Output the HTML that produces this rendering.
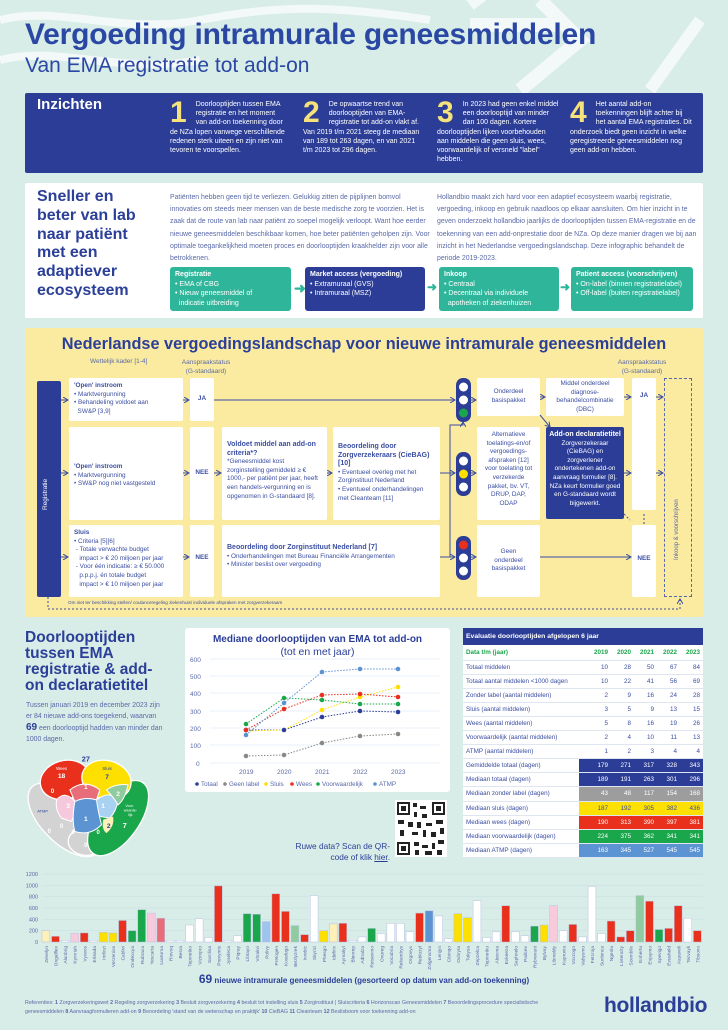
<!DOCTYPE html>
<html><head><meta charset="utf-8"><style>
*{margin:0;padding:0;box-sizing:border-box}
body{width:728px;height:1030px;background:#d8ece8;font-family:"Liberation Sans",sans-serif;color:#2b3f98;position:relative;overflow:hidden}
.a{position:absolute}
.w{background:#fff}
.t7{font-size:7px;line-height:9.4px}
.wt{color:#fff}
b{font-weight:bold}
.bx{position:absolute;background:#fff;border-radius:2px;font-size:6.4px;line-height:8.6px;padding:4px 5px;color:#3a4ea2}
.c{text-align:center}
.pb{position:absolute;top:267px;height:44px;border-radius:3px;padding:3px 5px;font-size:7px;line-height:9.5px;color:#fff}
table{border-collapse:collapse}
td{height:14.1px;font-size:6.3px;color:#3a4ea2;border-bottom:1px solid #dfe6ef;padding:0 3px}
td.n{text-align:right;width:23px}
.iz{font-size:7px;line-height:9.2px}
.iz span{float:left;font-size:30px;line-height:26px;font-weight:bold;color:#f6e27a;margin-right:9px}
</style></head><body>
<svg class="a" style="left:0;top:0" width="728" height="230">
<path d="M0 20 C60 5 120 35 200 20 S330 5 430 20" stroke="#fff" stroke-width="8" fill="none" opacity=".7"/>
<path d="M0 60 C60 45 120 75 200 60" stroke="#fff" stroke-width="8" fill="none" opacity=".7"/>
<path d="M470 25 L560 25 M540 0 L580 40 L520 90" stroke="#fff" stroke-width="14" fill="none" opacity=".7"/>
<path d="M470 5 L490 -10 M650 90 L700 20" stroke="#fff" stroke-width="12" fill="none" opacity=".7"/>
</svg>
<div class="a" style="left:25px;top:18px;font-size:30px;font-weight:bold;color:#2a47a3;letter-spacing:-.2px">Vergoeding intramurale geneesmiddelen</div>
<div class="a" style="left:25px;top:54px;font-size:21px;color:#2a47a3">Van EMA registratie tot add-on</div>

<div class="a" style="left:25px;top:93px;width:678px;height:80px;background:#2b3d96;border-radius:2px"></div>
<div class="a wt" style="left:37px;top:96px;font-size:15px;font-weight:bold">Inzichten</div>
<div class="a wt iz" style="left:170px;top:100px;width:118px"><span>1</span>Doorlooptijden tussen EMA registratie en het moment van add-on toekenning door de NZa lopen vanwege verschillende redenen sterk uiteen en zijn niet van tevoren te voorspellen.</div>
<div class="a wt iz" style="left:303px;top:100px;width:120px"><span>2</span>De opwaartse trend van doorlooptijden van EMA-registratie tot add-on vlakt af. Van 2019 t/m 2021 steeg de mediaan van 189 tot 263 dagen, en van 2021 t/m 2023 tot 296 dagen.</div>
<div class="a wt iz" style="left:437px;top:100px;width:122px"><span>3</span>In 2023 had geen enkel middel een doorlooptijd van minder dan 100 dagen. Kortere doorlooptijden lijken voorbehouden aan middelen die geen sluis, wees, voorwaardelijk of versneld "label" hebben.</div>
<div class="a wt iz" style="left:570px;top:100px;width:122px"><span>4</span>Het aantal add-on toekenningen blijft achter bij het aantal EMA registraties. Dit onderzoek biedt geen inzicht in welke geregistreerde geneesmiddelen nog geen add-on hebben.</div>

<div class="a w" style="left:25px;top:183px;width:678px;height:135px;border-radius:2px"></div>
<div class="a" style="left:37px;top:188px;font-size:16px;line-height:18.8px;font-weight:bold;color:#2b3f98">Sneller en<br>beter van lab<br>naar patiënt<br>met een<br>adaptiever<br>ecosysteem</div>
<div class="a" style="left:170px;top:192px;width:262px;font-size:6.9px;line-height:12.2px;color:#5a6aa8">Patiënten hebben geen tijd te verliezen. Gelukkig zitten de pijplijnen bomvol innovaties om steeds meer mensen van de beste medische zorg te voorzien. Het is zaak dat de route van lab naar patiënt zo soepel mogelijk verloopt. Want hoe eerder nieuwe geneesmiddelen beschikbaar komen, hoe beter patiënten geholpen zijn. Voor optimale toegankelijkheid moeten proces en doorlooptijden kraakhelder zijn voor alle betrokkenen.</div>
<div class="a" style="left:437px;top:192px;width:262px;font-size:6.9px;line-height:12.2px;color:#5a6aa8">Hollandbio maakt zich hard voor een adaptief ecosysteem waarbij registratie, vergoeding, inkoop en gebruik naadloos op elkaar aansluiten. Om hier inzicht in te geven onderzoekt hollandbio jaarlijks de doorlooptijden tussen EMA-registratie en de toekenning van een add-onprestatie door de NZa. Op deze manier dragen we bij aan inzicht in het Nederlandse vergoedingslandschap. Deze infographic behandelt de periode 2019-2023.</div>
<div class="pb" style="left:170px;width:121px;background:#2fb59a"><b>Registratie</b><br>• EMA of CBG<br>• Nieuw geneesmiddel of<br>&nbsp;&nbsp;indicatie uitbreiding</div>
<div class="pb" style="left:305px;width:120px;background:#2b3d96"><b>Market access (vergoeding)</b><br>• Extramuraal (GVS)<br>• Intramuraal (MSZ)</div>
<div class="pb" style="left:439px;width:120px;background:#2fb59a"><b>Inkoop</b><br>• Centraal<br>• Decentraal via individuele<br>&nbsp;&nbsp;apotheken of ziekenhuizen</div>
<div class="pb" style="left:571px;width:122px;background:#2fb59a"><b>Patient access (voorschrijven)</b><br>• On-label (binnen registratielabel)<br>• Off-label (buiten registratielabel)</div>
<div class="a" style="left:294px;top:280px;color:#2fb59a;font-size:14px;font-weight:bold">➜</div>
<div class="a" style="left:427px;top:280px;color:#2fb59a;font-size:12px;font-weight:bold">➜</div>
<div class="a" style="left:560px;top:280px;color:#2fb59a;font-size:12px;font-weight:bold">➜</div>

<div class="a" style="left:25px;top:328px;width:678px;height:289px;background:#fbeba0;border-radius:2px"></div>
<div class="a c" style="left:25px;top:335px;width:678px;font-size:16.3px;font-weight:bold;color:#2b3f98">Nederlandse vergoedingslandschap voor nieuwe intramurale geneesmiddelen</div>
<div class="a" style="left:90px;top:358px;font-size:6.5px;color:#5a6aa8">Wettelijk kader [1-4]</div>
<div class="a c" style="left:176px;top:358px;width:60px;font-size:6.5px;line-height:9px;color:#5a6aa8">Aanspraakstatus<br>(G-standaard)</div>
<div class="a c" style="left:612px;top:358px;width:60px;font-size:6.5px;line-height:9px;color:#5a6aa8">Aanspraakstatus<br>(G-standaard)</div>
<div class="a" style="left:37px;top:381px;width:24px;height:216px;background:#2b3d96;border-radius:2px"></div>
<div class="a wt" style="left:42px;top:510px;font-size:6.5px;transform:rotate(-90deg);transform-origin:0 0">Registratie</div>

<div class="bx" style="left:69px;top:378px;width:114px;height:43px"><b>'Open' instroom</b><br>• Marktvergunning<br>• Behandeling voldoet aan<br>&nbsp;&nbsp;SW&amp;P [3,9]</div>
<div class="bx c" style="left:190px;top:378px;width:24px;height:43px;padding-top:17px"><b>JA</b></div>
<div class="bx" style="left:69px;top:427px;width:114px;height:93px;padding-top:36px"><b>'Open' instroom</b><br>• Marktvergunning<br>• SW&amp;P nog niet vastgesteld</div>
<div class="bx c" style="left:190px;top:427px;width:24px;height:93px;padding-top:42px"><b>NEE</b></div>
<div class="bx" style="left:222px;top:427px;width:105px;height:93px;padding-top:14px"><b style="font-size:7px">Voldoet middel aan add-on criteria*?</b><br>*Geneesmiddel kost zorginstelling gemiddeld ≥ € 1000,- per patiënt per jaar, heeft een handels-vergunning en is opgenomen in G-standaard [8].</div>
<div class="bx" style="left:333px;top:427px;width:107px;height:93px;padding-top:16px"><b style="font-size:7px">Beoordeling door Zorgverzekeraars (CieBAG) [10]</b><br>• Eventueel overleg met het Zorginstituut Nederland<br>• Eventueel onderhandelingen met Cleanteam [11]</div>
<div class="bx" style="left:69px;top:525px;width:114px;height:72px"><b>Sluis</b><br>• Criteria [5][6]<br>&nbsp;- Totale verwachte budget<br>&nbsp;&nbsp;&nbsp;impact &gt; € 20 miljoen per jaar<br>&nbsp;- Voor één indicatie: ≥ € 50.000<br>&nbsp;&nbsp;&nbsp;p.p.p.j. én totale budget<br>&nbsp;&nbsp;&nbsp;impact &gt; € 10 miljoen per jaar</div>
<div class="bx c" style="left:190px;top:525px;width:24px;height:72px;padding-top:29px"><b>NEE</b></div>
<div class="bx" style="left:222px;top:525px;width:218px;height:72px;padding-top:19px"><b style="font-size:7px">Beoordeling door Zorginstituut Nederland [7]</b><br>• Onderhandelingen met Bureau Financiële Arrangementen<br>• Minister beslist over vergoeding</div>
<div class="bx c" style="left:477px;top:378px;width:63px;height:38px;padding-top:10px">Onderdeel<br>basispakket</div>
<div class="bx c" style="left:546px;top:378px;width:78px;height:38px;padding-top:2px">Middel onderdeel diagnose-behandelcombinatie (DBC)</div>
<div class="bx c" style="left:477px;top:427px;width:63px;height:93px;padding-top:4px">Alternatieve toelatings-en/of vergoedings-afspraken [12] voor toelating tot verzekerde pakket, bv. VT, DRUP, DAP, ODAP</div>
<div class="bx c" style="left:546px;top:427px;width:78px;height:92px;background:#2b3d96;color:#fff;padding:4px 3px"><b style="font-size:7px">Add-on declaratietitel</b><br>Zorgverzekeraar (CieBAG) en zorgverlener ondertekenen add-on aanvraag formulier [8]. NZa keurt formulier goed en G-standaard wordt bijgewerkt.</div>
<div class="bx c" style="left:477px;top:525px;width:63px;height:72px;padding-top:23px">Geen<br>onderdeel<br>basispakket</div>
<div class="bx c" style="left:632px;top:378px;width:24px;height:132px;padding-top:14px"><b>JA</b></div>
<div class="bx c" style="left:632px;top:525px;width:24px;height:72px;padding-top:30px"><b>NEE</b></div>
<div class="a" style="left:664px;top:378px;width:28px;height:219px;border:1px dashed #5a6aa8"></div>
<div class="a" style="left:674px;top:560px;font-size:6px;color:#5a6aa8;transform:rotate(-90deg);transform-origin:0 0;white-space:nowrap">Inkoop &amp; voorschrijven</div>
<div class="a" style="left:68px;top:600px;font-size:4.6px;color:#3a4ea2">Om niet ter beschikking stellen/ coulanceregeling ziekenhuis/ individuele afspraken met zorgverzekeraars</div>

<svg class="a" style="left:0;top:0" width="728" height="1030">
<defs><marker id="ar" markerWidth="6" markerHeight="6" refX="5" refY="3" orient="auto"><path d="M0 0 L5 3 L0 6" fill="none" stroke="#3a4ea2" stroke-width="1"/></marker></defs>
<g stroke="#3a4ea2" stroke-width="1" fill="none" marker-end="url(#ar)">
<path d="M61 400H68"/><path d="M183 400H189"/><path d="M214 400H455"/><path d="M471 400H476"/><path d="M540 397H545"/><path d="M624 397H631"/><path d="M656 397H663"/>
<path d="M61 473H68"/><path d="M183 473H189"/><path d="M214 473H221"/><path d="M327 473H332"/><path d="M440 473H455"/><path d="M471 473H476"/><path d="M624 473H631"/><path d="M656 473H663"/>
<path d="M61 557H68"/><path d="M183 557H189"/><path d="M440 557H455"/><path d="M471 557H476"/><path d="M540 557H631"/>
<path d="M540 415L550 427"/><path d="M450 473V425H463V422"/>
</g>
<path d="M450 473V557" stroke="#3a4ea2"/>
<path d="M48 597V609H680V599" stroke="#3a4ea2" stroke-dasharray="2 2" fill="none" marker-end="url(#ar)"/>
<path d="M624 514L630 520M644 524V512" stroke="#3a4ea2" stroke-dasharray="2 2" fill="none"/>
<g><rect x="456" y="378" width="15" height="44" rx="7" fill="#2b3d96"/><circle cx="463.5" cy="387" r="4.5" fill="#fff"/><circle cx="463.5" cy="400" r="4.5" fill="#fff"/><circle cx="463.5" cy="413" r="4.5" fill="#1aa64a"/>
<rect x="456" y="452" width="15" height="44" rx="7" fill="#2b3d96"/><circle cx="463.5" cy="461" r="4.5" fill="#fff"/><circle cx="463.5" cy="474" r="4.5" fill="#fde000"/><circle cx="463.5" cy="487" r="4.5" fill="#fff"/>
<rect x="456" y="536" width="15" height="44" rx="7" fill="#2b3d96"/><circle cx="463.5" cy="545" r="4.5" fill="#e8301c"/><circle cx="463.5" cy="558" r="4.5" fill="#fff"/><circle cx="463.5" cy="571" r="4.5" fill="#fff"/></g>
</svg>

<div class="a" style="left:25px;top:630px;font-size:15.5px;line-height:16px;font-weight:bold">Doorlooptijden<br>tussen EMA<br>registratie &amp; add-<br>on declaratietitel</div>
<div class="a" style="left:26px;top:700px;width:140px;font-size:6.9px;line-height:11px;color:#5a6aa8">Tussen januari 2019 en december 2023 zijn er 84 nieuwe add-ons toegekend, waarvan <b style="font-size:10px;color:#2b3f98">69</b> een doorlooptijd hadden van minder dan 1000 dagen.</div>

<svg class="a" style="left:20px;top:753px" width="133" height="107" viewBox="60 190 400 320">
<ellipse cx="195" cy="390" rx="70" ry="140" transform="rotate(-45 195 390)" fill="#d3d3d3" stroke="#fff" stroke-width="4"/>
<ellipse cx="260" cy="455" rx="55" ry="42" fill="#d3d3d3" stroke="#fff" stroke-width="4"/>
<ellipse cx="355" cy="385" rx="65" ry="130" transform="rotate(35 355 385)" fill="#1aa64a" stroke="#fff" stroke-width="4"/>
<ellipse cx="195" cy="270" rx="75" ry="58" transform="rotate(-15 195 270)" fill="#e8301c" stroke="#fff" stroke-width="4"/>
<ellipse cx="320" cy="270" rx="75" ry="58" transform="rotate(15 320 270)" fill="#fde000" stroke="#fff" stroke-width="4"/>
<path d="M210 300 Q255 265 300 300 L290 330 Q255 320 225 335Z" fill="#e86d7a" stroke="#fff" stroke-width="3"/>
<path d="M170 330 Q195 300 225 335 L240 345 Q220 380 215 395 L185 385 Q165 360 170 330Z" fill="#f6c8dc" stroke="#fff" stroke-width="3"/>
<path d="M290 330 Q330 300 355 330 Q350 365 330 385 L300 380 Q285 355 290 330Z" fill="#a9d1f2" stroke="#fff" stroke-width="3"/>
<path d="M225 335 Q255 320 290 330 Q295 365 305 405 Q270 440 225 425 Q215 390 225 335Z" fill="#5b93d3" stroke="#fff" stroke-width="3"/>
<path d="M310 390 L340 380 Q345 410 320 430 Q305 420 310 390Z" fill="#fdf0b8"/>
<path d="M320 300 Q350 280 385 285 Q375 330 355 345 Q340 320 320 300Z" fill="#8fcb9e" stroke="#fff" stroke-width="3"/>
<g font-family="Liberation Sans" font-weight="bold" text-anchor="middle">
<text x="258" y="215" font-size="22" fill="#2b3f98">27</text>
<text x="185" y="240" font-size="13" fill="#fff" font-weight="normal">Wees</text><text x="185" y="265" font-size="20" fill="#fff">18</text>
<text x="322" y="240" font-size="13" fill="#2b3f98" font-weight="normal">Sluis</text><text x="322" y="268" font-size="20" fill="#2b3f98">7</text>
<text x="258" y="298" font-size="20" fill="#fff">1</text><text x="355" y="318" font-size="20" fill="#fff">2</text>
<text x="205" y="355" font-size="20" fill="#fff">3</text><text x="310" y="355" font-size="20" fill="#fff">1</text>
<text x="258" y="393" font-size="20" fill="#fff">1</text><text x="327" y="415" font-size="20" fill="#2b3f98">2</text><text x="375" y="415" font-size="22" fill="#fff">7</text>
<text x="128" y="368" font-size="12" fill="#2b3f98" font-weight="normal">ATMP</text>
<text x="390" y="352" font-size="11" fill="#fff" font-weight="normal">Voor-</text><text x="392" y="365" font-size="11" fill="#fff" font-weight="normal">waarde-</text><text x="392" y="378" font-size="11" fill="#fff" font-weight="normal">lijk</text>
<text x="158" y="310" font-size="18" fill="#fff">0</text><text x="148" y="430" font-size="18" fill="#fff">0</text><text x="185" y="415" font-size="18" fill="#fff">0</text><text x="220" y="432" font-size="18" fill="#fff">0</text><text x="295" y="432" font-size="18" fill="#fff">0</text><text x="258" y="472" font-size="18" fill="#fff">0</text>
</g></svg>

<div class="a w" style="left:185px;top:628px;width:265px;height:164px;border-radius:3px"></div>
<div class="a c" style="left:185px;top:634px;width:265px;font-size:10px;font-weight:bold">Mediane doorlooptijden van EMA tot add-on</div>
<div class="a c" style="left:185px;top:646px;width:265px;font-size:10.5px">(tot en met jaar)</div>
<svg class="a" style="left:0;top:0" width="728" height="1030">
<g font-family="Liberation Sans" font-size="6.5" fill="#5a6aa8">
<text x="190" y="662">600</text><text x="190" y="679">500</text><text x="190" y="696">400</text><text x="190" y="714">300</text><text x="190" y="731">200</text><text x="190" y="748">100</text><text x="196" y="766">0</text>
<text x="239" y="774">2019</text><text x="277" y="774">2020</text><text x="315" y="774">2021</text><text x="353" y="774">2022</text><text x="391" y="774">2023</text>
</g>
<g stroke="#e3eef7" stroke-width=".8"><path d="M210 659H440M210 676H440M210 693H440M210 711H440M210 728H440M210 745H440M210 763H440"/></g>
<g stroke-dasharray="1.5 1.5" stroke-width="1" fill="none">
<polyline stroke="#2b3d96" points="246,730 284,730 322,717 360,711 398,712"/>
<polyline stroke="#888" points="246,756 284,755 322,743 360,736 398,734"/>
<polyline stroke="#fde000" points="246,731 284,730 322,710 360,697 398,687"/>
<polyline stroke="#e8301c" points="246,730 284,709 322,695 360,694 398,697"/>
<polyline stroke="#1aa64a" points="246,724 284,698 322,700 360,704 398,704"/>
<polyline stroke="#5b93d3" points="246,735 284,703 322,672 360,669 398,669"/>
</g>
<g>
<circle cx="246" cy="730" r="2.3" fill="#2b3d96"/><circle cx="284" cy="730" r="2.3" fill="#2b3d96"/><circle cx="322" cy="717" r="2.3" fill="#2b3d96"/><circle cx="360" cy="711" r="2.3" fill="#2b3d96"/><circle cx="398" cy="712" r="2.3" fill="#2b3d96"/>
<circle cx="246" cy="756" r="2.3" fill="#888"/><circle cx="284" cy="755" r="2.3" fill="#888"/><circle cx="322" cy="743" r="2.3" fill="#888"/><circle cx="360" cy="736" r="2.3" fill="#888"/><circle cx="398" cy="734" r="2.3" fill="#888"/>
<circle cx="322" cy="710" r="2.3" fill="#fde000"/><circle cx="360" cy="697" r="2.3" fill="#fde000"/><circle cx="398" cy="687" r="2.3" fill="#fde000"/>
<circle cx="246" cy="730" r="2.3" fill="#e8301c"/><circle cx="284" cy="709" r="2.3" fill="#e8301c"/><circle cx="322" cy="695" r="2.3" fill="#e8301c"/><circle cx="360" cy="694" r="2.3" fill="#e8301c"/><circle cx="398" cy="697" r="2.3" fill="#e8301c"/>
<circle cx="246" cy="724" r="2.3" fill="#1aa64a"/><circle cx="284" cy="698" r="2.3" fill="#1aa64a"/><circle cx="322" cy="700" r="2.3" fill="#1aa64a"/><circle cx="360" cy="704" r="2.3" fill="#1aa64a"/><circle cx="398" cy="704" r="2.3" fill="#1aa64a"/>
<circle cx="246" cy="735" r="2.3" fill="#5b93d3"/><circle cx="284" cy="703" r="2.3" fill="#5b93d3"/><circle cx="322" cy="672" r="2.3" fill="#5b93d3"/><circle cx="360" cy="669" r="2.3" fill="#5b93d3"/><circle cx="398" cy="669" r="2.3" fill="#5b93d3"/>
</g>
<g font-family="Liberation Sans" font-size="6.3" fill="#5a6aa8">
<circle cx="197" cy="784" r="1.8" fill="#2b3d96"/><text x="201" y="786">Totaal</text>
<circle cx="225" cy="784" r="1.8" fill="#888"/><text x="229" y="786">Geen label</text>
<circle cx="266" cy="784" r="1.8" fill="#fde000"/><text x="270" y="786">Sluis</text>
<circle cx="292" cy="784" r="1.8" fill="#e8301c"/><text x="296" y="786">Wees</text>
<circle cx="318" cy="784" r="1.8" fill="#1aa64a"/><text x="322" y="786">Voorwaardelijk</text>
<circle cx="375" cy="784" r="1.8" fill="#5b93d3"/><text x="379" y="786">ATMP</text>
</g>
<g fill="#222">
<rect x="395" y="800" width="52" height="57" fill="#fff"/>
<rect x="397" y="802" width="13" height="13"/><rect x="399" y="804" width="9" height="9" fill="#fff"/><rect x="401" y="806" width="5" height="5"/>
<rect x="432" y="802" width="13" height="13"/><rect x="434" y="804" width="9" height="9" fill="#fff"/><rect x="436" y="806" width="5" height="5"/>
<rect x="397" y="842" width="13" height="13"/><rect x="399" y="844" width="9" height="9" fill="#fff"/><rect x="401" y="846" width="5" height="5"/>
<path d="M413 803h4v4h-4zM420 806h6v3h-6zM414 812h3v5h-3zM422 814h5v4h-5zM398 820h6v4h-6zM408 822h5v5h-5zM417 822h4v6h-4zM426 823h6v3h-6zM436 820h7v4h-7zM400 830h4v6h-4zM412 832h6v3h-6zM423 830h3v7h-3zM431 832h5v5h-5zM440 828h4v6h-4zM414 842h5v4h-5zM422 845h6v3h-6zM432 843h3v6h-3zM438 840h6v4h-6zM415 850h4v5h-4zM425 851h7v4h-7zM437 850h5v5h-5z"/>
</g>
</svg>
<div class="a" style="left:290px;top:841px;width:100px;font-size:8.3px;line-height:11px;text-align:right">Ruwe data? Scan de QR-code of klik <u>hier</u>.</div>

<div class="a" style="left:463px;top:628px;width:240px;height:229px;background:#fff"></div>
<div class="a" style="left:463px;top:628px;width:240px;height:17px;background:#2b3d96;color:#fff;font-size:6.8px;font-weight:bold;padding:5px 3px">Evaluatie doorlooptijden afgelopen 6 jaar</div>
<table class="a" style="left:463px;top:646px;width:240px">
<tr><td style="color:#1aa64a;font-weight:bold">Data t/m (jaar)</td><td class="n" style="color:#1aa64a;font-weight:bold">2019</td><td class="n" style="color:#1aa64a;font-weight:bold">2020</td><td class="n" style="color:#1aa64a;font-weight:bold">2021</td><td class="n" style="color:#1aa64a;font-weight:bold">2022</td><td class="n" style="color:#1aa64a;font-weight:bold">2023</td></tr>
<tr><td>Totaal middelen</td><td class="n">10</td><td class="n">28</td><td class="n">50</td><td class="n">67</td><td class="n">84</td></tr>
<tr><td>Totaal aantal middelen &lt;1000 dagen</td><td class="n">10</td><td class="n">22</td><td class="n">41</td><td class="n">56</td><td class="n">69</td></tr>
<tr><td>Zonder label (aantal middelen)</td><td class="n">2</td><td class="n">9</td><td class="n">16</td><td class="n">24</td><td class="n">28</td></tr>
<tr><td>Sluis (aantal middelen)</td><td class="n">3</td><td class="n">5</td><td class="n">9</td><td class="n">13</td><td class="n">15</td></tr>
<tr><td>Wees (aantal middelen)</td><td class="n">5</td><td class="n">8</td><td class="n">16</td><td class="n">19</td><td class="n">26</td></tr>
<tr><td>Voorwaardelijk (aantal middelen)</td><td class="n">2</td><td class="n">4</td><td class="n">10</td><td class="n">11</td><td class="n">13</td></tr>
<tr><td>ATMP (aantal middelen)</td><td class="n">1</td><td class="n">2</td><td class="n">3</td><td class="n">4</td><td class="n">4</td></tr>
<tr style="background:linear-gradient(90deg,#fff 116px,#2b3d96 116px)"><td>Gemiddelde totaal (dagen)</td><td class="n wt">179</td><td class="n wt">271</td><td class="n wt">317</td><td class="n wt">328</td><td class="n wt">343</td></tr>
<tr style="background:linear-gradient(90deg,#fff 116px,#2b3d96 116px)"><td>Mediaan totaal (dagen)</td><td class="n wt">189</td><td class="n wt">191</td><td class="n wt">263</td><td class="n wt">301</td><td class="n wt">296</td></tr>
<tr style="background:linear-gradient(90deg,#fff 116px,#9d9d9d 116px)"><td>Mediaan zonder label (dagen)</td><td class="n wt">43</td><td class="n wt">48</td><td class="n wt">117</td><td class="n wt">154</td><td class="n wt">168</td></tr>
<tr style="background:linear-gradient(90deg,#fff 116px,#fde000 116px)"><td>Mediaan sluis (dagen)</td><td class="n">187</td><td class="n">192</td><td class="n">305</td><td class="n">382</td><td class="n">436</td></tr>
<tr style="background:linear-gradient(90deg,#fff 116px,#e8301c 116px)"><td>Mediaan wees (dagen)</td><td class="n wt">190</td><td class="n wt">313</td><td class="n wt">390</td><td class="n wt">397</td><td class="n wt">381</td></tr>
<tr style="background:linear-gradient(90deg,#fff 116px,#1aa64a 116px)"><td>Mediaan voorwaardelijk (dagen)</td><td class="n wt">224</td><td class="n wt">375</td><td class="n wt">362</td><td class="n wt">341</td><td class="n wt">341</td></tr>
<tr style="background:linear-gradient(90deg,#fff 116px,#5b93d3 116px)"><td>Mediaan ATMP (dagen)</td><td class="n wt">163</td><td class="n wt">345</td><td class="n wt">527</td><td class="n wt">545</td><td class="n wt">545</td></tr>
</table>

<svg class="a" style="left:0;top:865px" width="728" height="115" id="bars"></svg>
<div class="a c" style="left:0;top:972px;width:728px;font-size:8px;font-weight:bold"><span style="font-size:12px">69</span> nieuwe intramurale geneesmiddelen (gesorteerd op datum van add-on toekenning)</div>
<div class="a" style="left:25px;top:999px;width:540px;font-size:5.3px;line-height:9px;color:#5a6aa8">Referenties: <b>1</b> Zorgverzekeringswet <b>2</b> Regeling zorgverzekering <b>3</b> Besluit zorgverzekering <b>4</b> besluit tot instelling sluis <b>5</b> Zorginstituut | Sluiscriteria <b>6</b> Horizonscan Geneesmiddelen <b>7</b> Beoordelingsprocedure specialistische geneesmiddelen <b>8</b> Aanvraagformulieren add-on <b>9</b> Beoordeling 'stand van de wetenschap en praktijk' <b>10</b> CieBAG <b>11</b> Cleanteam <b>12</b> Beslisboom voor toekenning add-on</div>
<div class="a" style="left:604px;top:994px;font-size:21px;font-weight:bold;color:#2b3f98;letter-spacing:-.3px">hollandbio</div>
<script>
var v=[200,100,30,150,160,30,170,160,380,200,570,510,420,30,30,300,410,80,990,30,110,500,490,360,850,540,290,130,820,200,320,330,30,90,240,150,330,330,180,510,550,460,60,500,430,730,80,180,640,180,110,280,300,640,200,310,90,980,150,370,90,200,820,720,220,240,640,420,200];
var c="cRwpRwyyRGGpkwwwwwRwwGGbRRsRwycRwwGwwwwRBwwyywwwRwwGypwRwwwRRRsRGRRwR";
var col={c:"#fdf0b8",R:"#e8301c",w:"#fff",p:"#f9c9dc",y:"#fde000",G:"#1aa64a",k:"#e86d7a",b:"#9cc4ee",s:"#8fcb9e",B:"#5b93d3"};
var n="Zevelyn Ongalflex Alunbrig Kymriah Vyxeos Erleada Imfinzi Verzenios Cablivi Ondexxya Rubraca Yescarta Luxturna Rinvoq Besra Tepmetko Vizimpro Sarclisa Prevymis Jyseleca Piqray Libtayo Vitrakvi Polivy Pretogen Koselugo Bezlyzrek Inrebic Skyrizi Phesgo Idefirix Aymakyt Blenrep Adtralza Retsevmo Onureg Vocabria Rekambys Orgovyx Reblozyl Zolgensma Lenjyn Cibinqo Oxbryta Tukysa Zepzelca Tepmetko Abecma Evkeeza Saphnelo Padcev Rybrevant Bylvay Libmeldy Kapruvia Voxzogo Vabysmo Fetcroja Sunlenca Ngenla Livtencity Scemblix Enhertu Enjaymo Spevigo Evusheld Aspaveli Tecvayli Tibsovo".split(" ");
var s='<g font-family="Liberation Sans" font-size="5.5" fill="#5a6aa8">';
[1200,1000,800,600,400,200,0].forEach(function(t){var y=77-t*68/1200;s+='<text x="38" y="'+(y+2)+'" text-anchor="end">'+t+'</text><line x1="42" x2="703" y1="'+y+'" y2="'+y+'" stroke="#c9e0e0" stroke-width=".5"/>';});
for(var i=0;i<69;i++){var x=42+i*9.58,h=v[i]*68/1200;s+='<rect x="'+x+'" y="'+(77-h)+'" width="7.8" height="'+h+'" fill="'+col[c[i]]+'" stroke="#b8c2e0" stroke-width=".5"/>';s+='<text transform="translate('+(x+6)+',81) rotate(-90)" text-anchor="end" font-size="4.8">'+n[i]+'</text>';}
document.getElementById("bars").innerHTML=s+'</g>';
</script>
</body></html>
